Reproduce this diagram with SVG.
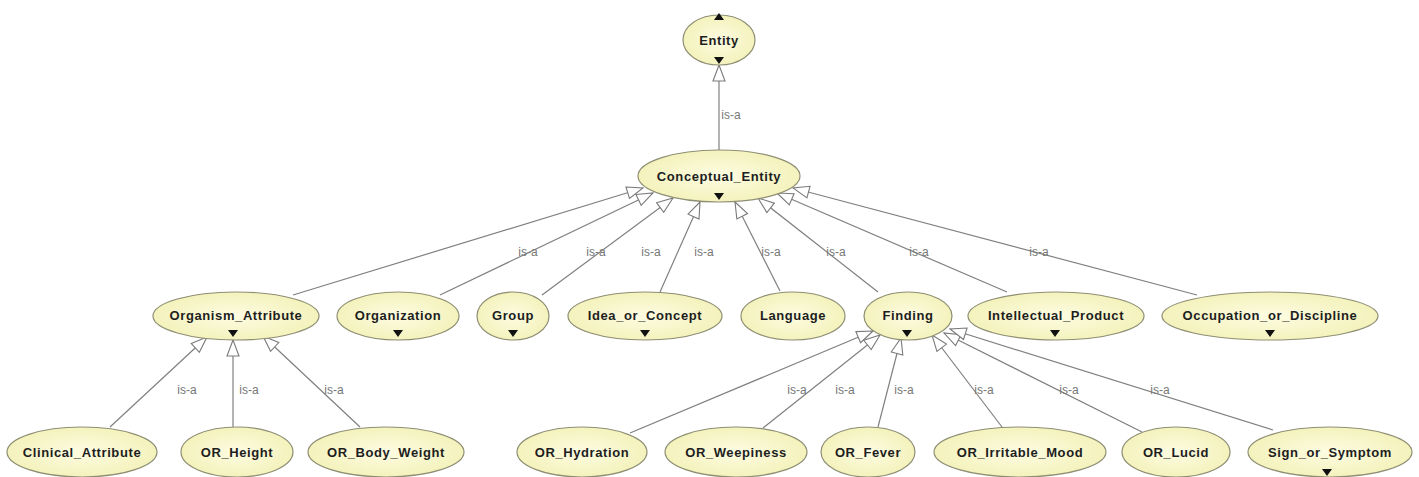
<svg xmlns="http://www.w3.org/2000/svg" width="1419" height="477" viewBox="0 0 1419 477">
<defs>
<radialGradient id="g" cx="50%" cy="50%" r="55%">
<stop offset="0" stop-color="#fdfce2"/>
<stop offset="1" stop-color="#f3f1b8"/>
</radialGradient>
<marker id="arr" viewBox="0 0 18 14" refX="17" refY="7" markerWidth="18" markerHeight="14" markerUnits="userSpaceOnUse" orient="auto">
<path d="M1,1 L17,7 L1,13 Z" fill="#fff" stroke="#7a7a7a" stroke-width="1.1"/>
</marker>
<style>
.n ellipse{fill:url(#g);stroke:#8e8e74;stroke-width:1.2}
.n text{font-family:"Liberation Sans",Arial,sans-serif;font-size:13px;font-weight:bold;letter-spacing:0.6px;fill:#1e1e1e;text-anchor:middle}
.t{fill:#111}
#edges line{stroke:#808080;stroke-width:1.2;marker-end:url(#arr)}
#edges text{font-family:"Liberation Sans",Arial,sans-serif;font-size:12px;fill:#777;text-anchor:middle}
</style>
</defs>
<rect width="1419" height="477" fill="#fff"/>
<g id="edges">
<line x1="719" y1="150" x2="719" y2="65"/>
<line x1="293" y1="295" x2="643" y2="188"/>
<line x1="440" y1="295" x2="653" y2="193"/>
<line x1="542" y1="295" x2="673" y2="198"/>
<line x1="660" y1="292" x2="700" y2="202"/>
<line x1="780" y1="291" x2="735" y2="202"/>
<line x1="878" y1="292" x2="758" y2="198"/>
<line x1="1007" y1="292" x2="777" y2="193"/>
<line x1="1197" y1="295" x2="793" y2="188"/>
<line x1="110" y1="427" x2="207" y2="337"/>
<line x1="233" y1="427" x2="233" y2="340"/>
<line x1="360" y1="427" x2="263" y2="336"/>
<line x1="630" y1="433" x2="873" y2="331"/>
<line x1="763" y1="428" x2="880" y2="335"/>
<line x1="878" y1="427" x2="901" y2="338"/>
<line x1="1002" y1="427" x2="932" y2="335"/>
<line x1="1142" y1="432" x2="944" y2="333"/>
<line x1="1273" y1="430" x2="950" y2="329"/>
<text x="731" y="119">is-a</text>
<text x="528" y="256">is-a</text>
<text x="596" y="256">is-a</text>
<text x="651" y="256">is-a</text>
<text x="704" y="256">is-a</text>
<text x="771" y="256">is-a</text>
<text x="836" y="256">is-a</text>
<text x="919" y="256">is-a</text>
<text x="1039" y="256">is-a</text>
<text x="187" y="394">is-a</text>
<text x="249" y="394">is-a</text>
<text x="334" y="394">is-a</text>
<text x="797" y="394">is-a</text>
<text x="845" y="394">is-a</text>
<text x="904" y="394">is-a</text>
<text x="984" y="394">is-a</text>
<text x="1069" y="394">is-a</text>
<text x="1160" y="394">is-a</text>
</g>
<g id="Entity" class="n"><ellipse cx="719" cy="40" rx="36" ry="25"/><text x="719" y="45">Entity</text><polygon class="t" points="714,20 724,20 719,13"/><polygon class="t" points="714,57 724,57 719,64"/></g>
<g id="Conceptual_Entity" class="n"><ellipse cx="719" cy="176" rx="81" ry="26"/><text x="719" y="181">Conceptual_Entity</text><polygon class="t" points="714,193 724,193 719,200"/></g>
<g id="Organism_Attribute" class="n"><ellipse cx="236" cy="316" rx="83" ry="24"/><text x="236" y="320">Organism_Attribute</text><polygon class="t" points="228,330 238,330 233,337"/></g>
<g id="Organization" class="n"><ellipse cx="398" cy="316" rx="61" ry="24"/><text x="398" y="320">Organization</text><polygon class="t" points="393,330 403,330 398,337"/></g>
<g id="Group" class="n"><ellipse cx="513" cy="316" rx="36" ry="24"/><text x="513" y="320">Group</text><polygon class="t" points="508,330 518,330 513,337"/></g>
<g id="Idea_or_Concept" class="n"><ellipse cx="645" cy="316" rx="77" ry="24"/><text x="645" y="320">Idea_or_Concept</text><polygon class="t" points="640,330 650,330 645,337"/></g>
<g id="Language" class="n"><ellipse cx="793" cy="316" rx="52" ry="24"/><text x="793" y="320">Language</text></g>
<g id="Finding" class="n"><ellipse cx="908" cy="316" rx="44" ry="24"/><text x="908" y="320">Finding</text><polygon class="t" points="902,330 912,330 907,337"/></g>
<g id="Intellectual_Product" class="n"><ellipse cx="1056" cy="316" rx="88" ry="24"/><text x="1056" y="320">Intellectual_Product</text><polygon class="t" points="1050,330 1060,330 1055,337"/></g>
<g id="Occupation_or_Discipline" class="n"><ellipse cx="1270" cy="316" rx="108" ry="24"/><text x="1270" y="320">Occupation_or_Discipline</text><polygon class="t" points="1265,330 1275,330 1270,337"/></g>
<g id="Clinical_Attribute" class="n"><ellipse cx="82" cy="452" rx="75" ry="25"/><text x="82" y="457">Clinical_Attribute</text></g>
<g id="OR_Height" class="n"><ellipse cx="237" cy="452" rx="56" ry="25"/><text x="237" y="457">OR_Height</text></g>
<g id="OR_Body_Weight" class="n"><ellipse cx="386" cy="452" rx="78" ry="25"/><text x="386" y="457">OR_Body_Weight</text></g>
<g id="OR_Hydration" class="n"><ellipse cx="582" cy="452" rx="65" ry="25"/><text x="582" y="457">OR_Hydration</text></g>
<g id="OR_Weepiness" class="n"><ellipse cx="736" cy="452" rx="71" ry="25"/><text x="736" y="457">OR_Weepiness</text></g>
<g id="OR_Fever" class="n"><ellipse cx="868" cy="452" rx="47" ry="25"/><text x="868" y="457">OR_Fever</text></g>
<g id="OR_Irritable_Mood" class="n"><ellipse cx="1020" cy="452" rx="86" ry="25"/><text x="1020" y="457">OR_Irritable_Mood</text></g>
<g id="OR_Lucid" class="n"><ellipse cx="1176" cy="452" rx="54" ry="25"/><text x="1176" y="457">OR_Lucid</text></g>
<g id="Sign_or_Symptom" class="n"><ellipse cx="1330" cy="452" rx="82" ry="25"/><text x="1330" y="457">Sign_or_Symptom</text><polygon class="t" points="1322,469 1332,469 1327,476"/></g>
</svg>
